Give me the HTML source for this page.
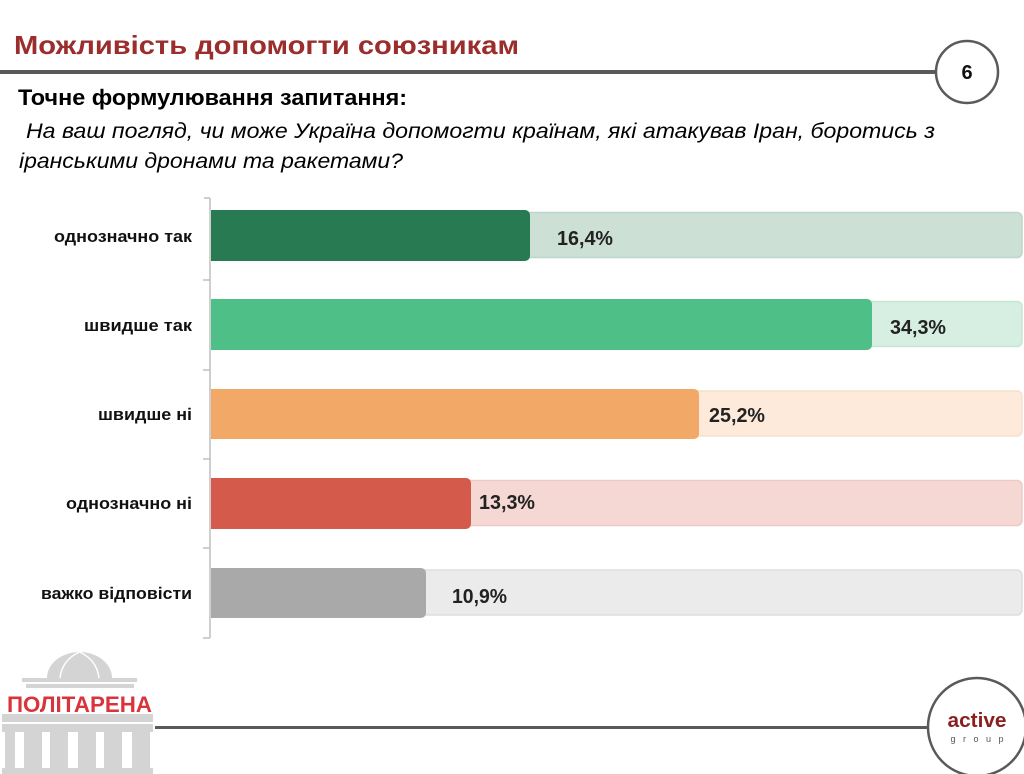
<!DOCTYPE html>
<html><head><meta charset="utf-8"><style>
html,body{margin:0;padding:0;background:#fff;}
svg{display:block;}
text{font-family:"Liberation Sans","DejaVu Sans",sans-serif;}
</style></head><body>
<svg width="1024" height="774" viewBox="0 0 1024 774" xmlns="http://www.w3.org/2000/svg">
<rect width="1024" height="774" fill="#fff"/>
<!-- header -->
<text x="14" y="54" font-size="26" font-weight="bold" fill="#9b2d2d" textLength="505" lengthAdjust="spacingAndGlyphs">Можливість допомогти союзникам</text>
<rect x="0" y="70" width="937" height="4" fill="#5a5a5a"/>
<circle cx="967" cy="72" r="31" fill="#fff" stroke="#5a5a5a" stroke-width="2.5"/>
<text x="967" y="79" font-size="20" font-weight="bold" fill="#111" text-anchor="middle">6</text>
<text x="18" y="105" font-size="22" font-weight="bold" fill="#000" textLength="389" lengthAdjust="spacingAndGlyphs">Точне формулювання запитання:</text>
<text x="26" y="138" font-size="21" font-style="italic" fill="#000" textLength="909" lengthAdjust="spacingAndGlyphs">На ваш погляд, чи може Україна допомогти країнам, які атакував Іран, боротись з</text>
<text x="19" y="168" font-size="21" font-style="italic" fill="#000" textLength="384" lengthAdjust="spacingAndGlyphs">іранськими дронами та ракетами?</text>

<!-- axis -->
<g stroke="#bfbfbf" stroke-width="1.5">
<line x1="210" y1="198" x2="210" y2="638"/>
<line x1="204" y1="198" x2="210" y2="198"/>
<line x1="203" y1="280" x2="210" y2="280"/>
<line x1="203" y1="370" x2="210" y2="370"/>
<line x1="203" y1="459" x2="210" y2="459"/>
<line x1="203" y1="548" x2="210" y2="548"/>
<line x1="203" y1="638" x2="210" y2="638"/>
</g>

<!-- category labels -->
<g font-size="16.5" font-weight="bold" fill="#111" text-anchor="end">
<text x="192" y="242" textLength="138" lengthAdjust="spacingAndGlyphs">однозначно так</text>
<text x="192" y="331" textLength="108" lengthAdjust="spacingAndGlyphs">швидше так</text>
<text x="192" y="420" textLength="94" lengthAdjust="spacingAndGlyphs">швидше ні</text>
<text x="192" y="509" textLength="126" lengthAdjust="spacingAndGlyphs">однозначно ні</text>
<text x="192" y="599" textLength="151" lengthAdjust="spacingAndGlyphs">важко відповісти</text>
</g>

<!-- bars: backgrounds -->
<rect x="212" y="212.5" width="810" height="45" rx="5" fill="#cde0d6" stroke="#bcd6c8" stroke-width="1.5"/>
<rect x="212" y="301.5" width="810" height="45" rx="5" fill="#d6efe2" stroke="#c3e7d4" stroke-width="1.5"/>
<rect x="212" y="391" width="810" height="45" rx="5" fill="#fdeadb" stroke="#f7dfcc" stroke-width="1.5"/>
<rect x="212" y="480.5" width="810" height="45" rx="5" fill="#f5d8d3" stroke="#efc9c3" stroke-width="1.5"/>
<rect x="212" y="570" width="810" height="45" rx="5" fill="#ebebeb" stroke="#dedede" stroke-width="1.5"/>

<!-- bars: foreground -->
<path d="M211 210 H525 a5 5 0 0 1 5 5 V256 a5 5 0 0 1 -5 5 H211 Z" fill="#287a53"/>
<path d="M211 299 H867 a5 5 0 0 1 5 5 V345 a5 5 0 0 1 -5 5 H211 Z" fill="#4fbf88"/>
<path d="M211 389 H694 a5 5 0 0 1 5 5 V434 a5 5 0 0 1 -5 5 H211 Z" fill="#f2a866"/>
<path d="M211 478 H466 a5 5 0 0 1 5 5 V524 a5 5 0 0 1 -5 5 H211 Z" fill="#d45b4b"/>
<path d="M211 568 H421 a5 5 0 0 1 5 5 V613 a5 5 0 0 1 -5 5 H211 Z" fill="#a9a9a9"/>

<!-- value labels -->
<g font-size="20" font-weight="bold" fill="#222">
<text x="557" y="245" textLength="56" lengthAdjust="spacingAndGlyphs">16,4%</text>
<text x="890" y="334" textLength="56" lengthAdjust="spacingAndGlyphs">34,3%</text>
<text x="709" y="422" textLength="56" lengthAdjust="spacingAndGlyphs">25,2%</text>
<text x="479" y="509" textLength="56" lengthAdjust="spacingAndGlyphs">13,3%</text>
<text x="452" y="603" textLength="55" lengthAdjust="spacingAndGlyphs">10,9%</text>
</g>

<!-- footer -->
<rect x="155" y="726" width="775" height="3" fill="#5a5a5a"/>
<circle cx="977" cy="727" r="49" fill="#fff" stroke="#5a5a5a" stroke-width="2.5"/>
<text x="977" y="727" font-size="20" font-weight="bold" fill="#8b1e1e" text-anchor="middle" textLength="59" lengthAdjust="spacingAndGlyphs">active</text>
<text x="977" y="742" font-size="9" fill="#555" text-anchor="middle" textLength="53" lengthAdjust="spacing">group</text>

<!-- politarena logo -->
<g fill="#d4d4d4">
<path d="M47 678 A32.5 26 0 0 1 112 678 Z"/>
<rect x="22" y="678" width="115" height="4"/>
<rect x="26" y="684" width="108" height="4"/>
<rect x="2" y="714" width="151" height="8"/>
<rect x="2" y="724" width="151" height="8"/>
<rect x="5" y="732" width="10" height="38"/>
<rect x="24" y="732" width="18" height="38"/>
<rect x="50" y="732" width="18" height="38"/>
<rect x="78" y="732" width="18" height="38"/>
<rect x="104" y="732" width="18" height="38"/>
<rect x="132" y="732" width="18" height="38"/>
<rect x="2" y="768" width="151" height="6"/>
</g>
<g stroke="#fff" stroke-width="1.5" fill="none">
<path d="M79.5 652 Q62 660 60 678"/>
<path d="M79.5 652 Q97 660 99 678"/>
</g>
<text x="7" y="712" font-size="22" font-weight="bold" fill="#d9343c" textLength="145" lengthAdjust="spacingAndGlyphs">ПОЛІТАРЕНА</text>
</svg>
</body></html>
